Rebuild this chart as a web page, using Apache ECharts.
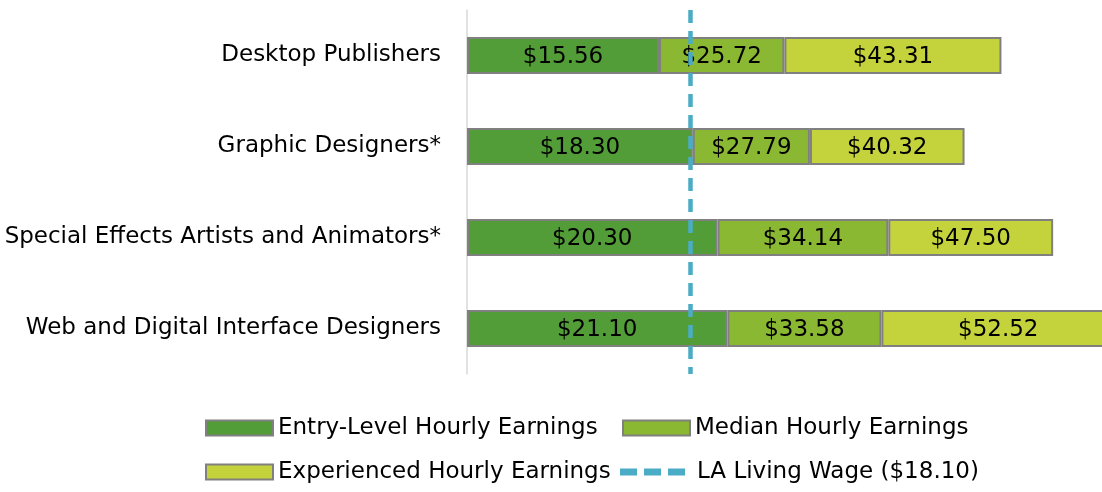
<!DOCTYPE html>
<html><head><meta charset="utf-8">
<script src="https://cdn.jsdelivr.net/npm/echarts@6/dist/echarts.min.js"></script>
<style>html,body{margin:0;padding:0;background:#fff}#c{width:1102px;height:492px}</style>
</head><body><div id="c"></div>
<script>
const categories = ['Desktop Publishers', 'Graphic Designers*', 'Special Effects Artists and Animators*', 'Web and Digital Interface Designers'];
const entryLevel = [15.56, 18.30, 20.30, 21.10];
const median = [25.72, 27.79, 34.14, 33.58];
const experienced = [43.31, 40.32, 47.50, 52.52];
const livingWage = 18.10;
const seriesNames = ['Entry-Level Hourly Earnings', 'Median Hourly Earnings', 'Experienced Hourly Earnings', 'LA Living Wage ($18.10)'];

const FONT = 'DejaVu Sans';
const colors = ['#529d38', '#8bb833', '#c4d23b'];
const levels = [entryLevel, median, experienced];
const diffs = levels.map((arr, i) => arr.map((v, j) => i === 0 ? v : +(v - levels[i - 1][j]).toFixed(2)));

const chart = echarts.init(document.getElementById('c'));
const barSeries = levels.map((arr, i) => ({
  name: seriesNames[i], type: 'bar', stack: 'total', barWidth: 37,
  data: diffs[i],
  itemStyle: { color: colors[i], borderColor: '#808080', borderWidth: 2 },
  label: { show: true, position: 'inside', color: '#000', fontFamily: FONT, fontSize: 23, offset: [0, 2],
    formatter: p => '$' + arr[p.dataIndex].toFixed(2) },
  emphasis: { disabled: true }
}));
const legendPos = [[205, 416.5], [622, 416.5], [205, 460.5], [620, 460.5]];
chart.setOption({
  animation: false,
  grid: { left: 467, top: 10, height: 364, width: 740.4, containLabel: false, outerBoundsMode: 'none' },
  xAxis: { type: 'value', min: 0, max: 60, show: false },
  yAxis: { type: 'category', data: categories, inverse: true,
    axisLine: { lineStyle: { color: '#d9d9d9', width: 1.5 } }, axisTick: { show: false },
    axisLabel: { color: '#000', fontFamily: FONT, fontSize: 23, margin: 26, padding: [6, 0, 0, 0] } },
  legend: seriesNames.map((n, i) => ({
    data: [ i === 3 ? { name: n, icon: 'path://M0,0h17v7h-17z M24,0h17v7h-17z M48,0h17v7h-17z', itemStyle: { color: '#4bacc6' } } : { name: n, icon: 'rect' } ],
    left: legendPos[i][0], top: legendPos[i][1], padding: 0,
    itemWidth: i === 3 ? 65 : 67, itemHeight: i === 3 ? 7 : 15, itemGap: 4,
    textStyle: { color: '#000', fontFamily: FONT, fontSize: 23, padding: i === 3 ? [0, 0, 0, 7] : 0 }, selectedMode: false
  })),
  series: [...barSeries, {
    name: seriesNames[3], type: 'line', data: [], symbol: 'none',
    lineStyle: { color: '#4bacc6', width: 4.5, type: [13, 8] }, itemStyle: { color: '#4bacc6' },
    markLine: { silent: true, symbol: 'none', label: { show: false },
      lineStyle: { color: '#4bacc6', width: 4.5, type: [13, 8] },
      data: [{ xAxis: livingWage }] }
  }]
});
</script></body></html>
